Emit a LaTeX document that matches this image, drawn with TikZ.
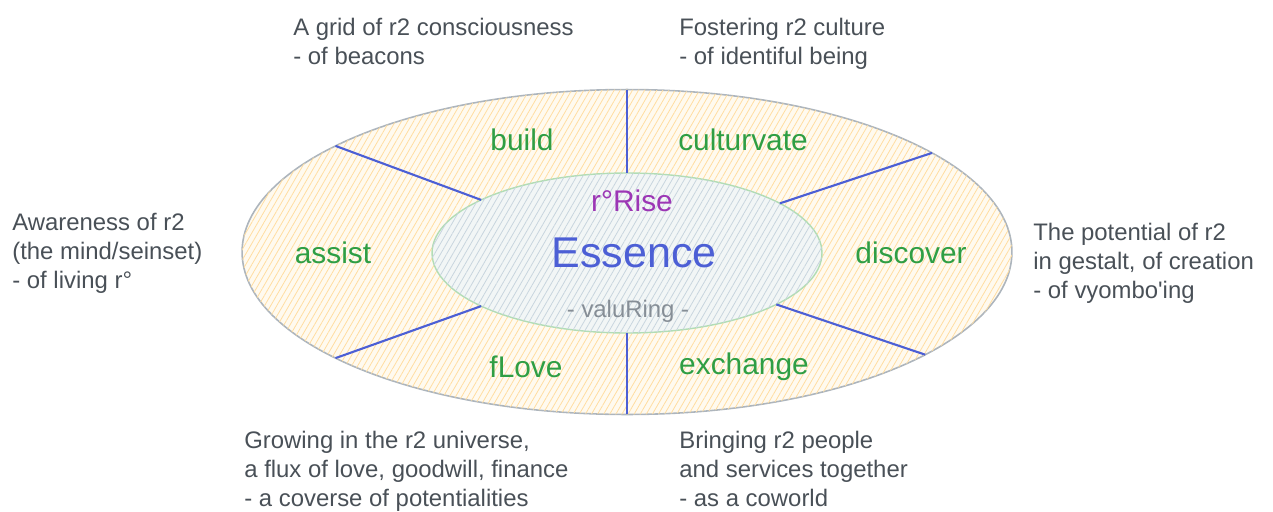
\documentclass[tikz,border=0pt]{standalone}
\usepackage{fontspec}
\setmainfont{Liberation Sans}
\usepackage{tikz}
\usetikzlibrary{shapes.geometric}
\usetikzlibrary{patterns.meta}
\definecolor{txtgray}{HTML}{495057}
\definecolor{ringgreen}{HTML}{2F9E44}
\definecolor{spokeblue}{HTML}{4C5FD5}
\definecolor{risepurple}{HTML}{9C36B5}
\definecolor{valugray}{HTML}{868E96}
\definecolor{outerline}{HTML}{ADB5BD}
\definecolor{outerfill}{HTML}{FFFAEF}
\definecolor{outerhatch}{HTML}{FFDDA0}
\definecolor{innerline}{HTML}{B2DDB5}
\definecolor{innerfill}{HTML}{F2F6F6}
\definecolor{innerhatch}{HTML}{C8D5DE}
\tikzstyle{desc}=[text=txtgray,align=left,anchor=base west,inner sep=0pt,font=\fontsize{13.6}{16.4}\selectfont]
\tikzstyle{sector}=[text=ringgreen,font=\fontsize{17}{20}\selectfont]
\tikzstyle{spoke}=[draw=spokeblue,line width=1.2pt]
\tikzstyle{ring}=[ellipse,inner sep=0pt,outer sep=0pt]
\tikzset{hatch/.style={pattern={Lines[angle=60,distance=3pt,line width=0.45pt]},pattern color=#1}}

\begin{document}
\begin{tikzpicture}[x=0.02cm,y=-0.02cm]
  \useasboundingbox (0,0) rectangle (1273,511);
  % rings
  \node[ring,draw=outerline,line width=0.9pt,fill=outerfill,
    postaction={hatch=outerhatch},minimum width=15.4cm,minimum height=6.5cm] (outer) at (627,252) {};
  \node[ring,draw=innerline,line width=0.8pt,fill=innerfill,
    postaction={hatch=innerhatch},minimum width=7.8cm,minimum height=3.2cm] (inner) at (627,253) {};
  % spokes
  \draw[spoke] (inner.90) -- (outer.90);
  \draw[spoke] (inner.160) -- (outer.160);
  \draw[spoke] (inner.18) -- (outer.18);
  \draw[spoke] (inner.200) -- (outer.200);
  \draw[spoke] (inner.-19) -- (outer.-19);
  \draw[spoke] (inner.270) -- (outer.270);
  % core
  \node[text=risepurple,font=\fontsize{17}{20}\selectfont] (rise) at (632,201) {r°Rise};
  \node[text=spokeblue,font=\fontsize{24.5}{28}\selectfont] (essence) at (634,253) {Essence};
  \node[text=valugray,font=\fontsize{13.6}{16}\selectfont] (valu) at (628,311) {- valuRing -};
  % sectors
  \node[sector] (build) at (522,140) {build};
  \node[sector] (cult) at (743,140) {culturvate};
  \node[sector] (assist) at (333,253) {assist};
  \node[sector] (disc) at (911,253) {discover};
  \node[sector] (flove) at (526,367) {fLove};
  \node[sector] (exch) at (744,367) {exchange};
  % descriptions (base = last line)
  \node[desc] (grid) at (293,64) {A grid of r2 consciousness\\- of beacons};
  \node[desc] (foster) at (679,64) {Fostering r2 culture\\- of identiful being};
  \node[desc] (aware) at (12,288) {Awareness of r2\\(the mind/seinset)\\- of living r°};
  \node[desc] (poten) at (1033,298) {The potential of r2\\in gestalt, of creation\\- of vyombo\textquotesingle ing};
  \node[desc] (grow) at (244,506) {Growing in the r2 universe,\\a flux of love, goodwill, finance\\- a coverse of potentialities};
  \node[desc] (bring) at (679,506) {Bringing r2 people\\and services together\\- as a coworld};
\end{tikzpicture}
\end{document}
